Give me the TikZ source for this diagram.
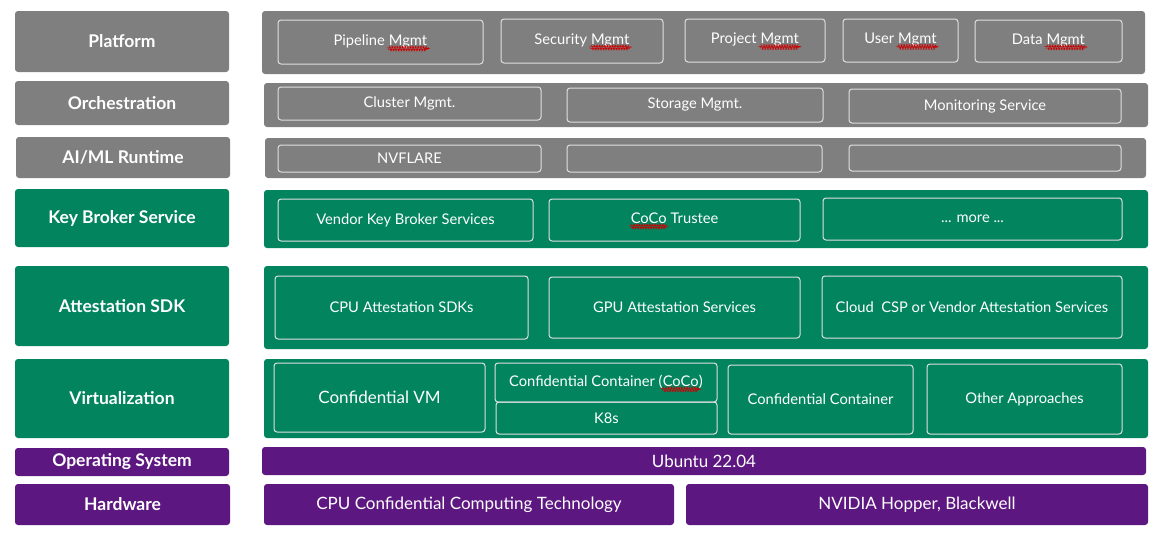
\documentclass[tikz,border=0pt]{standalone}
\usepackage{fontspec}
\setmainfont{Lato}
\usetikzlibrary{decorations.pathmorphing}
\newcommand\redwave[1]{\tikz[baseline=(w.base)]{\node[inner sep=0pt,outer sep=0pt,draw=none,minimum width=0pt,minimum height=0pt](w){#1};\draw[red!80!black,line width=0.35pt,decorate,decoration={snake,amplitude=0.8pt,segment length=2.6pt}] ([yshift=-3.3pt]w.base west) -- ([yshift=-3.3pt]w.base east);}}
\definecolor{lgray}{HTML}{7F7F7F}
\definecolor{lgreen}{HTML}{02855F}
\definecolor{lpurple}{HTML}{5D1780}
\newcommand\mkbox[7]{\node[#2, minimum width={(#5-#3)*1pt}, minimum height={(#6-#4)*1pt}] (#1) at ({(#3+#5)/2},{(#4+#6)/2}) {#7};}
\begin{document}
\begin{tikzpicture}[x=1pt,y=-1pt,
  every node/.style={inner sep=0pt, outer sep=0pt, text=white, align=center},
  lbl/.style={rounded corners=3pt, font=\fontsize{17.5}{20}\selectfont\bfseries},
  pnl/.style={rounded corners=3pt},
  gray/.style={fill=lgray},
  green/.style={fill=lgreen},
  purple/.style={fill=lpurple},
  inbox/.style={draw=white!75!lgray, line width=1pt, rounded corners=3pt, font=\fontsize{14.7}{17}\selectfont},
  big/.style={font=\fontsize{17}{20}\selectfont},
]
\useasboundingbox (0,0) rectangle (1158,533);
% left labels
\mkbox{lplat}{lbl,gray}{15}{11}{229}{72}{Platform}
\mkbox{lorch}{lbl,gray}{15}{81}{229}{125}{Orchestration}
\mkbox{lai}{lbl,gray}{16}{137}{230}{178}{AI/ML Runtime}
\mkbox{lkbs}{lbl,green}{15}{189}{229}{247}{Key Broker Service}
\mkbox{latt}{lbl,green}{15}{266}{229}{346}{Attestation SDK}
\mkbox{lvirt}{lbl,green}{15}{359}{229}{438}{Virtualization}
\mkbox{los}{lbl,purple}{15}{448}{229}{476}{Operating System}
\mkbox{lhw}{lbl,purple}{15}{484}{230}{525}{Hardware}
% panels
\mkbox{pplat}{pnl,gray}{262}{11}{1145}{74}{}
\mkbox{porch}{pnl,gray}{264}{83}{1148}{127}{}
\mkbox{pai}{pnl,gray}{265}{138}{1146}{178}{}
\mkbox{pkbs}{pnl,green}{264}{190}{1148}{248}{}
\mkbox{patt}{pnl,green}{264}{266}{1148}{349}{}
\mkbox{pvirt}{pnl,green}{264}{359}{1148}{438}{}
% platform row
\mkbox{pipe}{inbox}{278}{20}{483}{64}{Pipeline \redwave{Mgmt}}
\mkbox{secm}{inbox}{501}{19}{663}{63}{Security \redwave{Mgmt}}
\mkbox{proj}{inbox}{685}{19}{825}{62}{Project \redwave{Mgmt}}
\mkbox{user}{inbox}{843}{19}{958}{62}{User \redwave{Mgmt}}
\mkbox{data}{inbox}{975}{20}{1122}{62}{Data \redwave{Mgmt}}
% orchestration row
\mkbox{clus}{inbox}{278}{87}{541}{120}{Cluster Mgmt.}
\mkbox{stor}{inbox}{567}{88}{823}{122}{Storage Mgmt.}
\mkbox{moni}{inbox}{849}{89}{1121}{123}{Monitoring Service}
% AI/ML row
\mkbox{nvfl}{inbox}{278}{145}{541}{172}{NVFLARE}
\mkbox{emp1}{inbox}{567}{145}{822}{172}{}
\mkbox{emp2}{inbox}{849}{145}{1121}{171}{}
% KBS row
\mkbox{vend}{inbox}{278}{199}{533}{241}{Vendor Key Broker Services}
\mkbox{trus}{inbox}{549}{199}{800}{241}{\redwave{CoCo} Trustee}
\mkbox{more}{inbox}{823}{198}{1122}{240}{... more ...}
% attestation row
\mkbox{cpua}{inbox}{275}{276}{528}{339}{CPU Attestation SDKs}
\mkbox{gpua}{inbox}{549}{277}{800}{338}{GPU Attestation Services}
\mkbox{clda}{inbox}{822}{276}{1122}{338}{Cloud\ \ CSP or Vendor Attestation Services}
% virtualization row
\mkbox{cvm}{inbox,big}{274}{363}{485}{432}{Confidential VM}
\mkbox{coco}{inbox}{495}{363}{717}{402}{Confidential Container (\redwave{CoCo})}
\mkbox{k8s}{inbox}{496}{402}{717}{434}{K8s}
\mkbox{ccon}{inbox}{728}{365}{913}{434}{Confidential Container}
\mkbox{othr}{inbox}{927}{364}{1122}{434}{Other Approaches}
% OS / hardware
\mkbox{ubun}{pnl,purple,big}{262}{447}{1146}{475}{Ubuntu 22.04}
\mkbox{cpuh}{pnl,purple,big}{264}{484}{674}{525}{CPU Confidential Computing Technology}
\mkbox{nvh}{pnl,purple,big}{686}{484}{1148}{525}{NVIDIA Hopper, Blackwell}
\end{tikzpicture}
\end{document}
